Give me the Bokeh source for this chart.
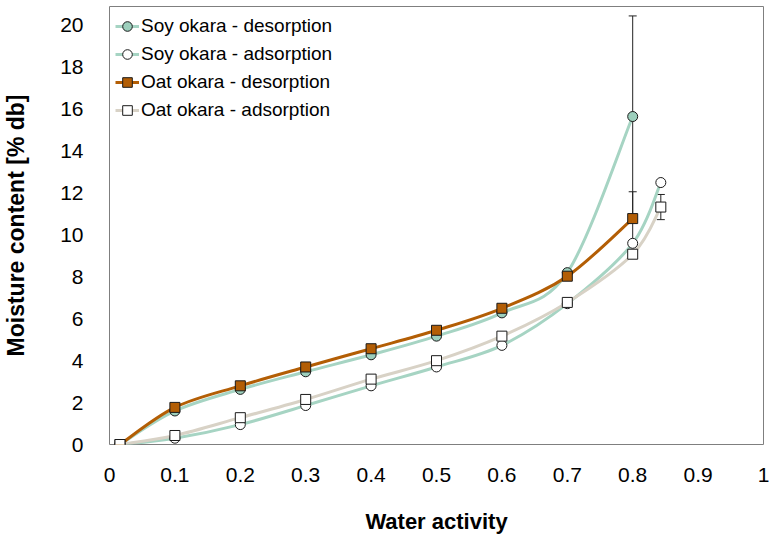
from bokeh.plotting import figure
from bokeh.models import Range1d, Legend, LegendItem, FixedTicker
from bokeh.embed import file_html
from bokeh.resources import INLINE

# ---- data ----
aw_des = [0.016, 0.1, 0.2, 0.3, 0.4, 0.5, 0.6, 0.7, 0.8]
aw_ads = [0.016, 0.1, 0.2, 0.3, 0.4, 0.5, 0.6, 0.7, 0.8, 0.843]

soy_des = [0.0, 1.6, 2.63, 3.47, 4.28, 5.17, 6.28, 8.2, 15.65]
soy_des_err = [0, 0, 0, 0, 0, 0, 0, 0, 4.8]
soy_ads = [0.0, 0.3, 0.95, 1.86, 2.8, 3.7, 4.73, 6.72, 9.6, 12.5]
oat_des = [0.0, 1.77, 2.8, 3.7, 4.57, 5.45, 6.5, 8.03, 10.78]
oat_des_err = [0, 0, 0, 0, 0, 0, 0, 0, 1.28]
oat_ads = [0.0, 0.43, 1.28, 2.15, 3.12, 4.0, 5.17, 6.78, 9.08, 11.33]
oat_ads_err = [0, 0, 0, 0, 0, 0, 0, 0, 0, 0.6]

x_ticks = [0, 0.1, 0.2, 0.3, 0.4, 0.5, 0.6, 0.7, 0.8, 0.9, 1.0]
y_ticks = [0, 2, 4, 6, 8, 10, 12, 14, 16, 18, 20]

labels = ["Soy okara - desorption", "Soy okara - adsorption",
          "Oat okara - desorption", "Oat okara - adsorption"]

# ---- styles ----
SOY_FILL = "#9ccfbc"
SOY_LINE = "#a6d4c3"
OAT_FILL = "#b35e05"
OAT_LINE = "#b35e05"
OATA_LINE = "#d8d2c6"
FONT = "Liberation Sans"
NAN = float("nan")


def smooth(xs, ys):
    """Catmull-Rom style bezier control points (like a spreadsheet's smoothed line)."""
    n = len(xs)
    out = dict(x0=[], y0=[], x1=[], y1=[], cx0=[], cy0=[], cx1=[], cy1=[])
    for i in range(n - 1):
        xp, yp = (xs[i - 1], ys[i - 1]) if i > 0 else (xs[i], ys[i])
        xn, yn = (xs[i + 2], ys[i + 2]) if i + 2 < n else (xs[i + 1], ys[i + 1])
        out["x0"].append(xs[i]); out["y0"].append(ys[i])
        out["x1"].append(xs[i + 1]); out["y1"].append(ys[i + 1])
        out["cx0"].append(xs[i] + (xs[i + 1] - xp) / 6)
        out["cy0"].append(ys[i] + (ys[i + 1] - yp) / 6)
        out["cx1"].append(xs[i + 1] - (xn - xs[i]) / 6)
        out["cy1"].append(ys[i + 1] - (yn - ys[i]) / 6)
    return out


p = figure(width=769, height=539, output_backend="svg", toolbar_location=None,
           x_range=Range1d(0, 1.0), y_range=Range1d(0, 20.9),
           min_border_left=106, min_border_right=6, min_border_top=6,
           min_border_bottom=95)
p.background_fill_color = "white"
p.border_fill_color = "white"
p.outline_line_color = "#7f7f7f"
p.outline_line_width = 1
p.xgrid.visible = False
p.ygrid.visible = False

for ax in (p.xaxis[0], p.yaxis[0]):
    ax.axis_line_color = None
    ax.major_tick_line_color = None
    ax.minor_tick_line_color = None
    ax.major_label_text_font = FONT
    ax.major_label_text_font_size = "21px"
    ax.major_label_text_color = "#000000"
    ax.axis_label_text_font = FONT
    ax.axis_label_text_font_style = "bold"
    ax.axis_label_text_color = "#000000"

p.xaxis[0].ticker = FixedTicker(ticks=x_ticks)
p.xaxis[0].major_label_overrides = {t: ("1" if t == 1.0 else ("0" if t == 0 else f"{t:g}")) for t in x_ticks}
p.xaxis[0].major_label_standoff = 17
p.xaxis[0].axis_label = "Water activity"
p.xaxis[0].axis_label_text_font_size = "22px"
p.xaxis[0].axis_label_standoff = 24
p.yaxis[0].ticker = FixedTicker(ticks=y_ticks)
p.yaxis[0].major_label_standoff = 20
p.yaxis[0].axis_label = "Moisture content [% db]"
p.yaxis[0].axis_label_text_font_size = "23px"
p.yaxis[0].axis_label_standoff = 28


def errbars(xs, ys, errs):
    ex = [x for x, e in zip(xs, errs) if e > 0]
    lo = [y - e for y, e in zip(ys, errs) if e > 0]
    hi = [y + e for y, e in zip(ys, errs) if e > 0]
    p.segment(x0=ex, y0=lo, x1=ex, y1=hi, line_color="#222222", line_width=1)
    p.scatter(x=ex + ex, y=lo + hi, marker="dash", size=8, line_color="#222222", line_width=1)


errbars(aw_des, soy_des, soy_des_err)
errbars(aw_des, oat_des, oat_des_err)
errbars(aw_ads, oat_ads, oat_ads_err)

# smoothed curves
series = [
    (aw_des, soy_des, SOY_LINE, "circle", SOY_FILL),
    (aw_ads, soy_ads, SOY_LINE, "circle", "white"),
    (aw_des, oat_des, OAT_LINE, "square", OAT_FILL),
    (aw_ads, oat_ads, OATA_LINE, "square", "white"),
]
line_rs = []
for xs, ys, lc, mk, fc in series:
    p.bezier(line_color=lc, line_width=3, **smooth(xs, ys))
    line_rs.append(p.line(x=[NAN], y=[NAN], line_color=lc, line_width=3))

marker_rs = []
for xs, ys, lc, mk, fc in series:
    marker_rs.append(p.scatter(x=xs, y=ys, marker=mk, size=10, fill_color=fc,
                               line_color="#1a1a1a", line_width=1))

items = [LegendItem(label=lab, renderers=[lr, mr])
         for lab, lr, mr in zip(labels, line_rs, marker_rs)]
legend = Legend(items=items, location="top_left", border_line_color=None,
                background_fill_alpha=0, label_text_font=FONT,
                label_text_font_size="19px", label_text_color="#000000",
                glyph_width=24, glyph_height=28, label_height=28,
                label_standoff=2, spacing=0, padding=0, margin=6,
                label_text_baseline="middle")
p.add_layout(legend)

open("out.html", "w").write(file_html(p, INLINE))
